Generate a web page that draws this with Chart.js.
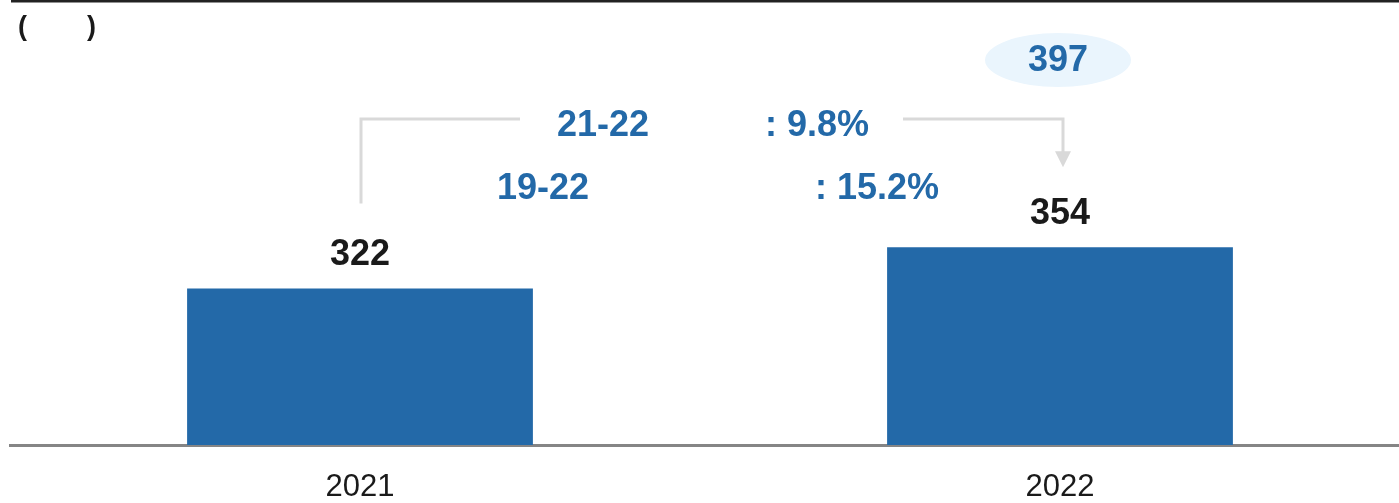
<!DOCTYPE html>
<html>
<head>
<meta charset="utf-8">
<script src="https://cdn.jsdelivr.net/npm/chart.js@4.4.0/dist/chart.umd.min.js"></script>
<style>
    html, body { margin: 0; padding: 0; background: #fff; overflow: hidden; }
    #wrap { width: 1410px; height: 503px; position: relative; }
</style>
</head>
<body>
<div id="wrap"><canvas id="mainChart"></canvas></div>
<script>
// 数据
const categories = ['2021', '2022'];
const values = [322, 354];
const forecastValue = 397;
const growthPeriods = ['21-22', '19-22'];
const growthRates = [': 9.8%', ': 15.2%'];

const BLUE = 'rgb(35, 105, 168)';
const FONT = '"Liberation Sans", Arial, sans-serif';

// 注释绘制插件
const annotationPlugin = {
    id: 'annotations',
    beforeDraw(chart) {
        const ctx = chart.ctx;
        ctx.save();
        // 顶部横线
        ctx.strokeStyle = '#222';
        ctx.lineWidth = 3;
        ctx.beginPath();
        ctx.moveTo(11, 1);
        ctx.lineTo(1399, 1);
        ctx.stroke();
        // 单位
        ctx.fillStyle = '#1a1a1a';
        ctx.font = 'bold 27px ' + FONT;
        ctx.textBaseline = 'middle';
        ctx.textAlign = 'left';
        ctx.fillText('(', 18, 28);
        ctx.fillText(')', 87, 28);
        ctx.restore();
    },
    afterDatasetsDraw(chart) {
        const ctx = chart.ctx;
        const x = chart.scales.x;
        const y = chart.scales.y;
        const x0 = x.getPixelForValue(0);
        const x1 = x.getPixelForValue(1);
        const top0 = y.getPixelForValue(values[0]);
        const top1 = y.getPixelForValue(values[1]);
        ctx.save();

        // 数值标签
        ctx.font = 'bold 36px ' + FONT;
        ctx.textAlign = 'center';
        ctx.textBaseline = 'middle';
        ctx.fillStyle = '#1a1a1a';
        ctx.fillText(String(values[0]), x0, top0 - 33);
        ctx.fillText(String(values[1]), x1, top1 - 33);

        // 预测值椭圆
        const ey = chart.chartArea.top;
        ctx.fillStyle = '#eaf5fd';
        ctx.beginPath();
        ctx.ellipse(x1 - 2, ey, 73, 27, 0, 0, Math.PI * 2);
        ctx.fill();
        ctx.fillStyle = BLUE;
        ctx.fillText(String(forecastValue), x1 - 2, ey + 1);

        // 连接线
        const lineY = 119;
        ctx.strokeStyle = '#d9d9d9';
        ctx.lineWidth = 3;
        ctx.beginPath();
        ctx.moveTo(x0 + 1, top0 - 85);
        ctx.lineTo(x0 + 1, lineY);
        ctx.lineTo(x0 + 160, lineY);
        ctx.moveTo(x1 - 157, lineY);
        ctx.lineTo(x1 + 3, lineY);
        ctx.lineTo(x1 + 3, top1 - 95);
        ctx.stroke();
        ctx.fillStyle = '#d9d9d9';
        ctx.beginPath();
        ctx.moveTo(x1 - 5, top1 - 96);
        ctx.lineTo(x1 + 11, top1 - 96);
        ctx.lineTo(x1 + 3, top1 - 80);
        ctx.closePath();
        ctx.fill();

        // 增长率文字
        ctx.fillStyle = BLUE;
        ctx.font = 'bold 36px ' + FONT;
        ctx.textAlign = 'center';
        ctx.fillText(growthPeriods[0], 603, 126);
        ctx.fillText(growthPeriods[1], 543, 189);
        ctx.textAlign = 'left';
        ctx.fillText(growthRates[0], 765, 126);
        ctx.fillText(growthRates[1], 815, 189);
        ctx.restore();
    }
};

new Chart(document.getElementById('mainChart'), {
    type: 'bar',
    data: {
        labels: categories,
        datasets: [{
            data: values,
            backgroundColor: BLUE,
            borderWidth: 0,
            categoryPercentage: 1,
            barPercentage: 0.494
        }]
    },
    options: {
        responsive: true,
        maintainAspectRatio: false,
        animation: false,
        layout: { padding: { left: 10, right: 0, top: 60, bottom: 0 } },
        plugins: {
            legend: { display: false },
            tooltip: { enabled: false }
        },
        scales: {
            x: {
                z: 1,
                grid: { display: false, drawTicks: false },
                border: { display: true, color: '#858585', width: 3 },
                ticks: {
                    color: '#1a1a1a',
                    padding: 24,
                    font: { family: FONT, size: 31 }
                },
                afterFit: s => { s.height = 58; }
            },
            y: {
                display: false,
                min: 200,
                max: 500
            }
        }
    },
    plugins: [annotationPlugin]
});
</script>
</body>
</html>
